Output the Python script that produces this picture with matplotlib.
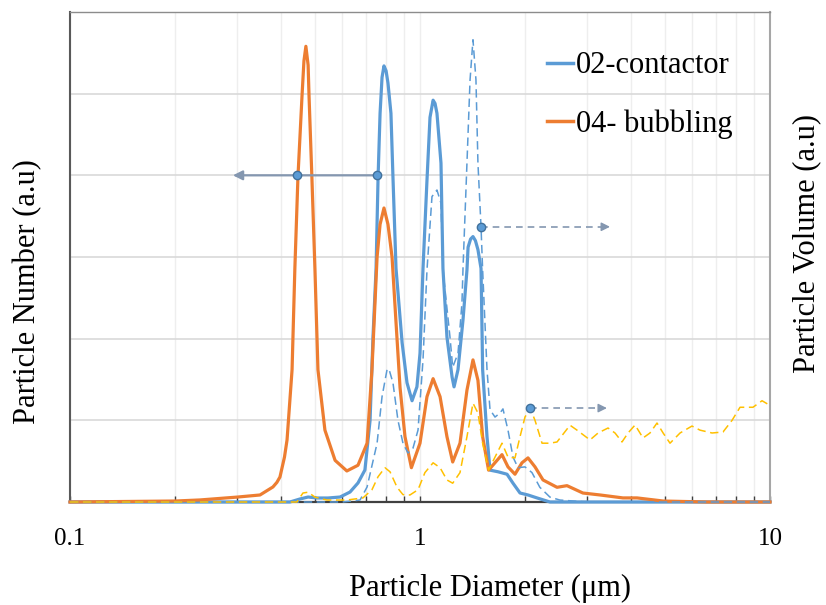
import matplotlib
matplotlib.use("Agg")
import matplotlib.pyplot as plt
from matplotlib.lines import Line2D
from matplotlib.ticker import FixedLocator, FixedFormatter, LogLocator, NullFormatter

plt.rcParams.update({
    "font.family": "Liberation Serif",
})

# particle number, 02-contactor (solid blue)
contactor_d = [0.10, 0.425, 0.454, 0.479, 0.508, 0.546, 0.591, 0.631, 0.665, 0.696,
               0.720, 0.734, 0.749, 0.759, 0.769, 0.779, 0.789, 0.800, 0.810, 0.826, 0.837,
               0.854, 0.889, 0.918, 0.949, 0.980, 1.00, 1.02, 1.047, 1.068, 1.09,
               1.104, 1.118, 1.148, 1.163, 1.194, 1.235, 1.251, 1.284, 1.327, 1.362, 1.372,
               1.395, 1.417, 1.44, 1.464, 1.494, 1.51, 1.554, 1.585, 1.671, 1.773, 1.844,
               1.931, 2.035, 2.159, 2.351, 10.0]
contactor_n = [0.0, 0.0, 0.037, 0.061, 0.049, 0.049, 0.061, 0.122, 0.233, 0.392,
               1.00, 2.02, 2.86, 3.98, 4.76, 5.20, 5.34, 5.28, 5.13, 4.76, 3.98,
               2.86, 1.95, 1.46, 1.24, 1.41, 1.82, 2.86, 3.94, 4.71, 4.92,
               4.88, 4.76, 4.15, 2.86, 2.02, 1.53, 1.41, 1.62, 2.23, 2.84, 3.12,
               3.22, 3.25, 3.20, 3.09, 2.86, 1.62, 0.80, 0.39, 0.37, 0.34, 0.23,
               0.11, 0.086, 0.05, 0.0, 0.0]

# particle number, 04- bubbling (solid orange)
bubbling_d = [0.10, 0.20, 0.235, 0.30, 0.349, 0.38, 0.39, 0.398, 0.41, 0.417, 0.431,
              0.439, 0.448, 0.460, 0.466, 0.472, 0.479, 0.482, 0.491, 0.501, 0.511,
              0.535, 0.572, 0.618, 0.665, 0.706, 0.729, 0.754, 0.769, 0.789, 0.810,
              0.832, 0.854, 0.877, 0.906, 0.945, 1.00, 1.047, 1.09, 1.141, 1.194,
              1.24, 1.301, 1.362, 1.417, 1.464, 1.51, 1.57, 1.66, 1.715, 1.784,
              1.868, 1.956, 2.035, 2.131, 2.246, 2.463, 2.63, 2.92, 3.27, 3.80,
              4.17, 4.95, 6.6, 10.0]
bubbling_n = [0.0, 0.012, 0.025, 0.06, 0.086, 0.184, 0.24, 0.306, 0.55, 0.76, 1.62,
              2.86, 3.98, 4.96, 5.40, 5.58, 5.35, 4.96, 3.98, 2.85, 1.62,
              0.88, 0.51, 0.38, 0.45, 0.72, 1.62, 3.0, 3.40, 3.60, 3.40,
              3.0, 2.2, 1.4, 0.80, 0.42, 0.72, 1.29, 1.51, 1.29, 0.80,
              0.49, 0.72, 1.37, 1.74, 1.49, 0.80, 0.39, 0.51, 0.58, 0.43,
              0.34, 0.48, 0.54, 0.43, 0.27, 0.18, 0.20, 0.11, 0.086, 0.05,
              0.05, 0.012, 0.0, 0.0]

# particle volume, 02-contactor (dashed blue)
contactor_vd = [0.10, 0.60, 0.674, 0.706, 0.754, 0.779, 0.805, 0.815, 0.837, 0.865,
                0.894, 0.924, 0.955, 0.987, 1.02, 1.047, 1.082, 1.118, 1.148, 1.163,
                1.218, 1.24, 1.284, 1.318, 1.327, 1.362, 1.39, 1.417, 1.445, 1.464,
                1.494, 1.51, 1.554, 1.585, 1.638, 1.693, 1.726, 1.784, 1.844, 1.905,
                1.995, 2.089, 2.20, 2.351, 2.51, 3.0, 10.0]
contactor_v = [0.0, 0.0, 0.024, 0.184, 0.72, 1.29, 1.62, 1.63, 1.46, 1.0,
               0.72, 0.60, 0.66, 0.88, 1.74, 2.84, 3.74, 3.82, 3.66, 2.84,
               2.02, 1.65, 1.82, 2.44, 2.86, 4.15, 5.17, 5.66, 5.17, 4.15,
               3.37, 2.84, 1.62, 1.13, 1.04, 1.09, 1.14, 0.88, 0.55, 0.42,
               0.43, 0.36, 0.18, 0.06, 0.024, 0.0, 0.0]

# particle volume, 04- bubbling (dashed yellow)
bubbling_vd = [0.10, 0.445, 0.463, 0.479, 0.501, 0.542, 0.618, 0.687, 0.729, 0.759,
               0.794, 0.821, 0.860, 0.894, 0.936, 0.987, 1.033, 1.09, 1.141, 1.194,
               1.24, 1.301, 1.362, 1.417, 1.464, 1.51, 1.57, 1.638, 1.715, 1.784,
               1.868, 1.931, 1.995, 2.063, 2.131, 2.232, 2.351, 2.463, 2.683, 2.809,
               3.06, 3.227, 3.445, 3.607, 3.777, 3.93, 4.116, 4.337, 4.54, 4.755,
               4.95, 5.18, 5.534, 5.985, 6.31, 6.83, 7.34, 7.79, 8.21, 8.94,
               9.49, 9.93]
bubbling_v = [0.0, 0.0, 0.11, 0.12, 0.06, 0.024, 0.024, 0.05, 0.15, 0.31,
              0.42, 0.37, 0.18, 0.09, 0.086, 0.15, 0.36, 0.48, 0.42, 0.27,
              0.23, 0.36, 0.80, 1.21, 1.09, 0.72, 0.39, 0.55, 0.72, 0.55,
              0.54, 0.80, 1.04, 1.15, 1.0, 0.72, 0.72, 0.735, 0.94, 0.88,
              0.76, 0.845, 0.906, 0.845, 0.735, 0.845, 0.943, 0.784, 0.845, 0.967,
              0.845, 0.72, 0.845, 0.93, 0.88, 0.845, 0.857, 1.0, 1.16, 1.16,
              1.24, 1.19]

# axis pointers: (start x, end x, y), with marker positions
number_arrow = (0.754, 0.292, 4.0)
number_marks = [0.754, 0.445]
volume_arrows = [(1.494, 3.49, 3.37), (2.063, 3.42, 1.15)]

BLUE = "#5b9bd5"
ORANGE = "#ed7d31"
YELLOW = "#ffc000"
POINTER = "#8497b0"

fig = plt.figure(figsize=(8.26, 6.05), dpi=100)
ax = fig.add_axes([70 / 826, 1 - 502 / 605, 700 / 826, 490 / 605])

ax.plot(contactor_d, contactor_n, color=BLUE, lw=2.3, clip_on=False, zorder=3)
ax.plot(bubbling_d, bubbling_n, color=ORANGE, lw=2.3, clip_on=False, zorder=3)
ax.plot(contactor_vd, contactor_v, color=BLUE, lw=1.1, dashes=(5.5, 3), clip_on=False, zorder=4)
ax.plot(bubbling_vd, bubbling_v, color=YELLOW, lw=1.1, dashes=(5.5, 3), clip_on=False, zorder=4)

# pointer to the left axis
x0, x1, y = number_arrow
ax.annotate("", xy=(x1, y), xytext=(x0, y),
            arrowprops=dict(arrowstyle="-|>", color=POINTER, lw=1.6,
                            mutation_scale=14, shrinkA=0, shrinkB=0), zorder=5)
ax.plot(number_marks, [y] * len(number_marks), "o", ms=6, mfc=BLUE, mec="#41719c",
        mew=1, zorder=6)

# pointers to the right axis
for x0, x1, y in volume_arrows:
    ax.plot([x0, x1 * 0.97], [y, y], color=POINTER, lw=1.2, dashes=(4, 3), zorder=5)
    ax.annotate("", xy=(x1, y), xytext=(x1 * 0.96, y),
                arrowprops=dict(arrowstyle="-|>", color=POINTER, lw=1.0,
                                mutation_scale=13, shrinkA=0, shrinkB=0), zorder=5)
    ax.plot([x0], [y], "o", ms=6, mfc=BLUE, mec="#41719c", mew=1, zorder=6)

ax.set_xscale("log")
ax.set_xlim(0.1, 10)
ax.set_ylim(0, 6)
ax.xaxis.set_major_locator(FixedLocator([0.1, 1, 10]))
ax.xaxis.set_major_formatter(FixedFormatter(["0.1", "1", "10"]))
ax.xaxis.set_minor_locator(LogLocator(base=10, subs=range(2, 10)))
ax.xaxis.set_minor_formatter(NullFormatter())
ax.set_yticks(range(7))
ax.set_yticklabels([])

ax.grid(axis="x", which="both", color="#eeeeee", lw=1)
ax.grid(axis="y", which="major", color="#d9d9d9", lw=1.2)
ax.set_axisbelow(True)

ax.tick_params(axis="x", which="both", direction="in", length=4, width=1,
               color="#404040", pad=19, labelsize=18)
ax.tick_params(axis="y", length=0)

ax.spines["left"].set_color("#595959")
ax.spines["left"].set_linewidth(1.5)
ax.spines["bottom"].set_color("#404040")
ax.spines["bottom"].set_linewidth(1.6)
ax.spines["top"].set_color("#8c8c8c")
ax.spines["top"].set_linewidth(1.0)
ax.spines["right"].set_color("#a6a6a6")
ax.spines["right"].set_linewidth(1.5)

ax.set_xlabel("Particle Diameter (\u03bcm)", fontsize=22, va="center")
ax.xaxis.set_label_coords(0.60, -0.176)
ax.set_ylabel("Particle Number (a.u)", fontsize=22, va="center")
ax.yaxis.set_label_coords(-0.06, 0.43)

ax2 = ax.twinx()
ax2.set_ylim(0, 6)
ax2.set_yticks([])
for s in ax2.spines.values():
    s.set_visible(False)
ax2.set_ylabel("Particle Volume (a.u)", fontsize=22, va="center", rotation=90)
ax2.yaxis.set_label_coords(1.053, 0.527)

handles = [Line2D([], [], color=BLUE, lw=2.5), Line2D([], [], color=ORANGE, lw=2.5)]
ax2.legend(handles, ["02-contactor", "04- bubbling"], loc="upper left",
           bbox_to_anchor=(0.681, 0.92), frameon=False, fontsize=22,
           handlelength=0.85, handletextpad=0.1, labelspacing=0.95, borderpad=0,
           borderaxespad=0)

fig.savefig("out.png", dpi=100)
